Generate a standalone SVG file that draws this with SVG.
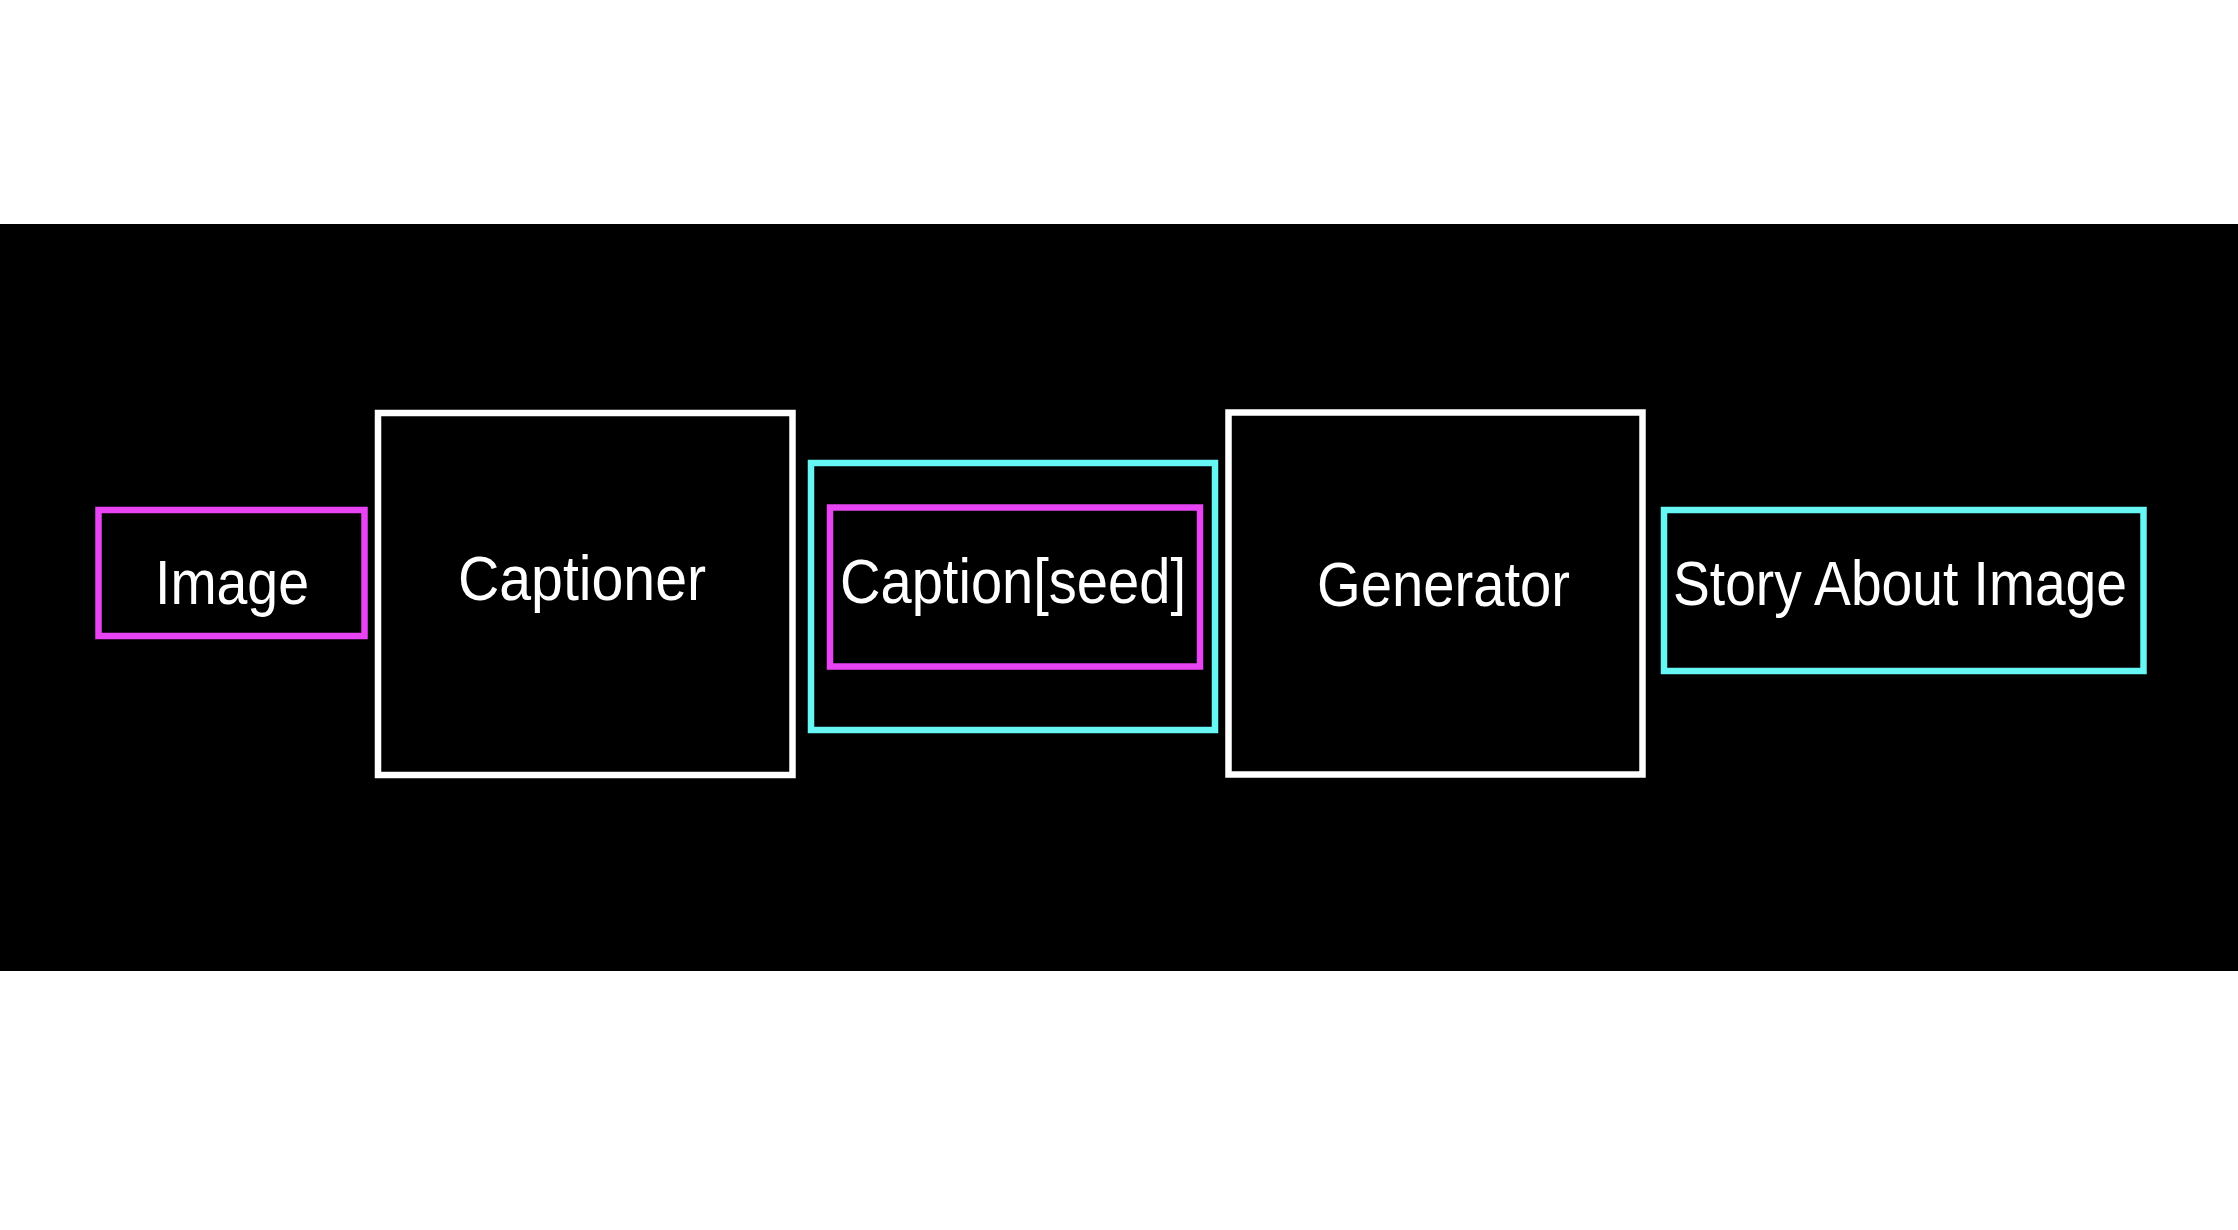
<svg xmlns="http://www.w3.org/2000/svg" width="2238" height="1230" viewBox="0 0 2238 1230">
  <style>
    .box { fill: none; stroke-width: 6.5; }
    .white { stroke: #ffffff; }
    .magenta { stroke: #e844f3; }
    .cyan { stroke: #66f6f3; }
    .label { font-family: "Liberation Sans", "DejaVu Sans", sans-serif; font-size: 63px; fill: #ffffff; }
  </style>
  <rect x="0" y="0" width="2238" height="1230" fill="#ffffff"/>
  <rect x="0" y="224" width="2238" height="747" fill="#000000"/>
  <g id="connectors"/>
  <g id="node-image">
    <rect class="box magenta" x="98.5" y="510" width="266" height="126"/>
    <text class="label" x="155" y="604" textLength="154" lengthAdjust="spacingAndGlyphs">Image</text>
  </g>
  <g id="node-captioner">
    <rect class="box white" x="378" y="413" width="414.5" height="362"/>
    <text class="label" x="458" y="600" textLength="248" lengthAdjust="spacingAndGlyphs">Captioner</text>
  </g>
  <g id="node-caption-group">
    <rect class="box cyan" x="811" y="463" width="404" height="267"/>
  </g>
  <g id="node-caption-seed">
    <rect class="box magenta" x="830" y="507.5" width="370" height="159"/>
    <text class="label" x="840" y="603" textLength="346" lengthAdjust="spacingAndGlyphs">Caption[seed]</text>
  </g>
  <g id="node-generator">
    <rect class="box white" x="1228.5" y="412.5" width="414" height="362"/>
    <text class="label" x="1317" y="606" textLength="253" lengthAdjust="spacingAndGlyphs">Generator</text>
  </g>
  <g id="node-story">
    <rect class="box cyan" x="1664" y="510" width="479.5" height="161"/>
    <text class="label" x="1673" y="605" textLength="454" lengthAdjust="spacingAndGlyphs">Story About Image</text>
  </g>
</svg>
